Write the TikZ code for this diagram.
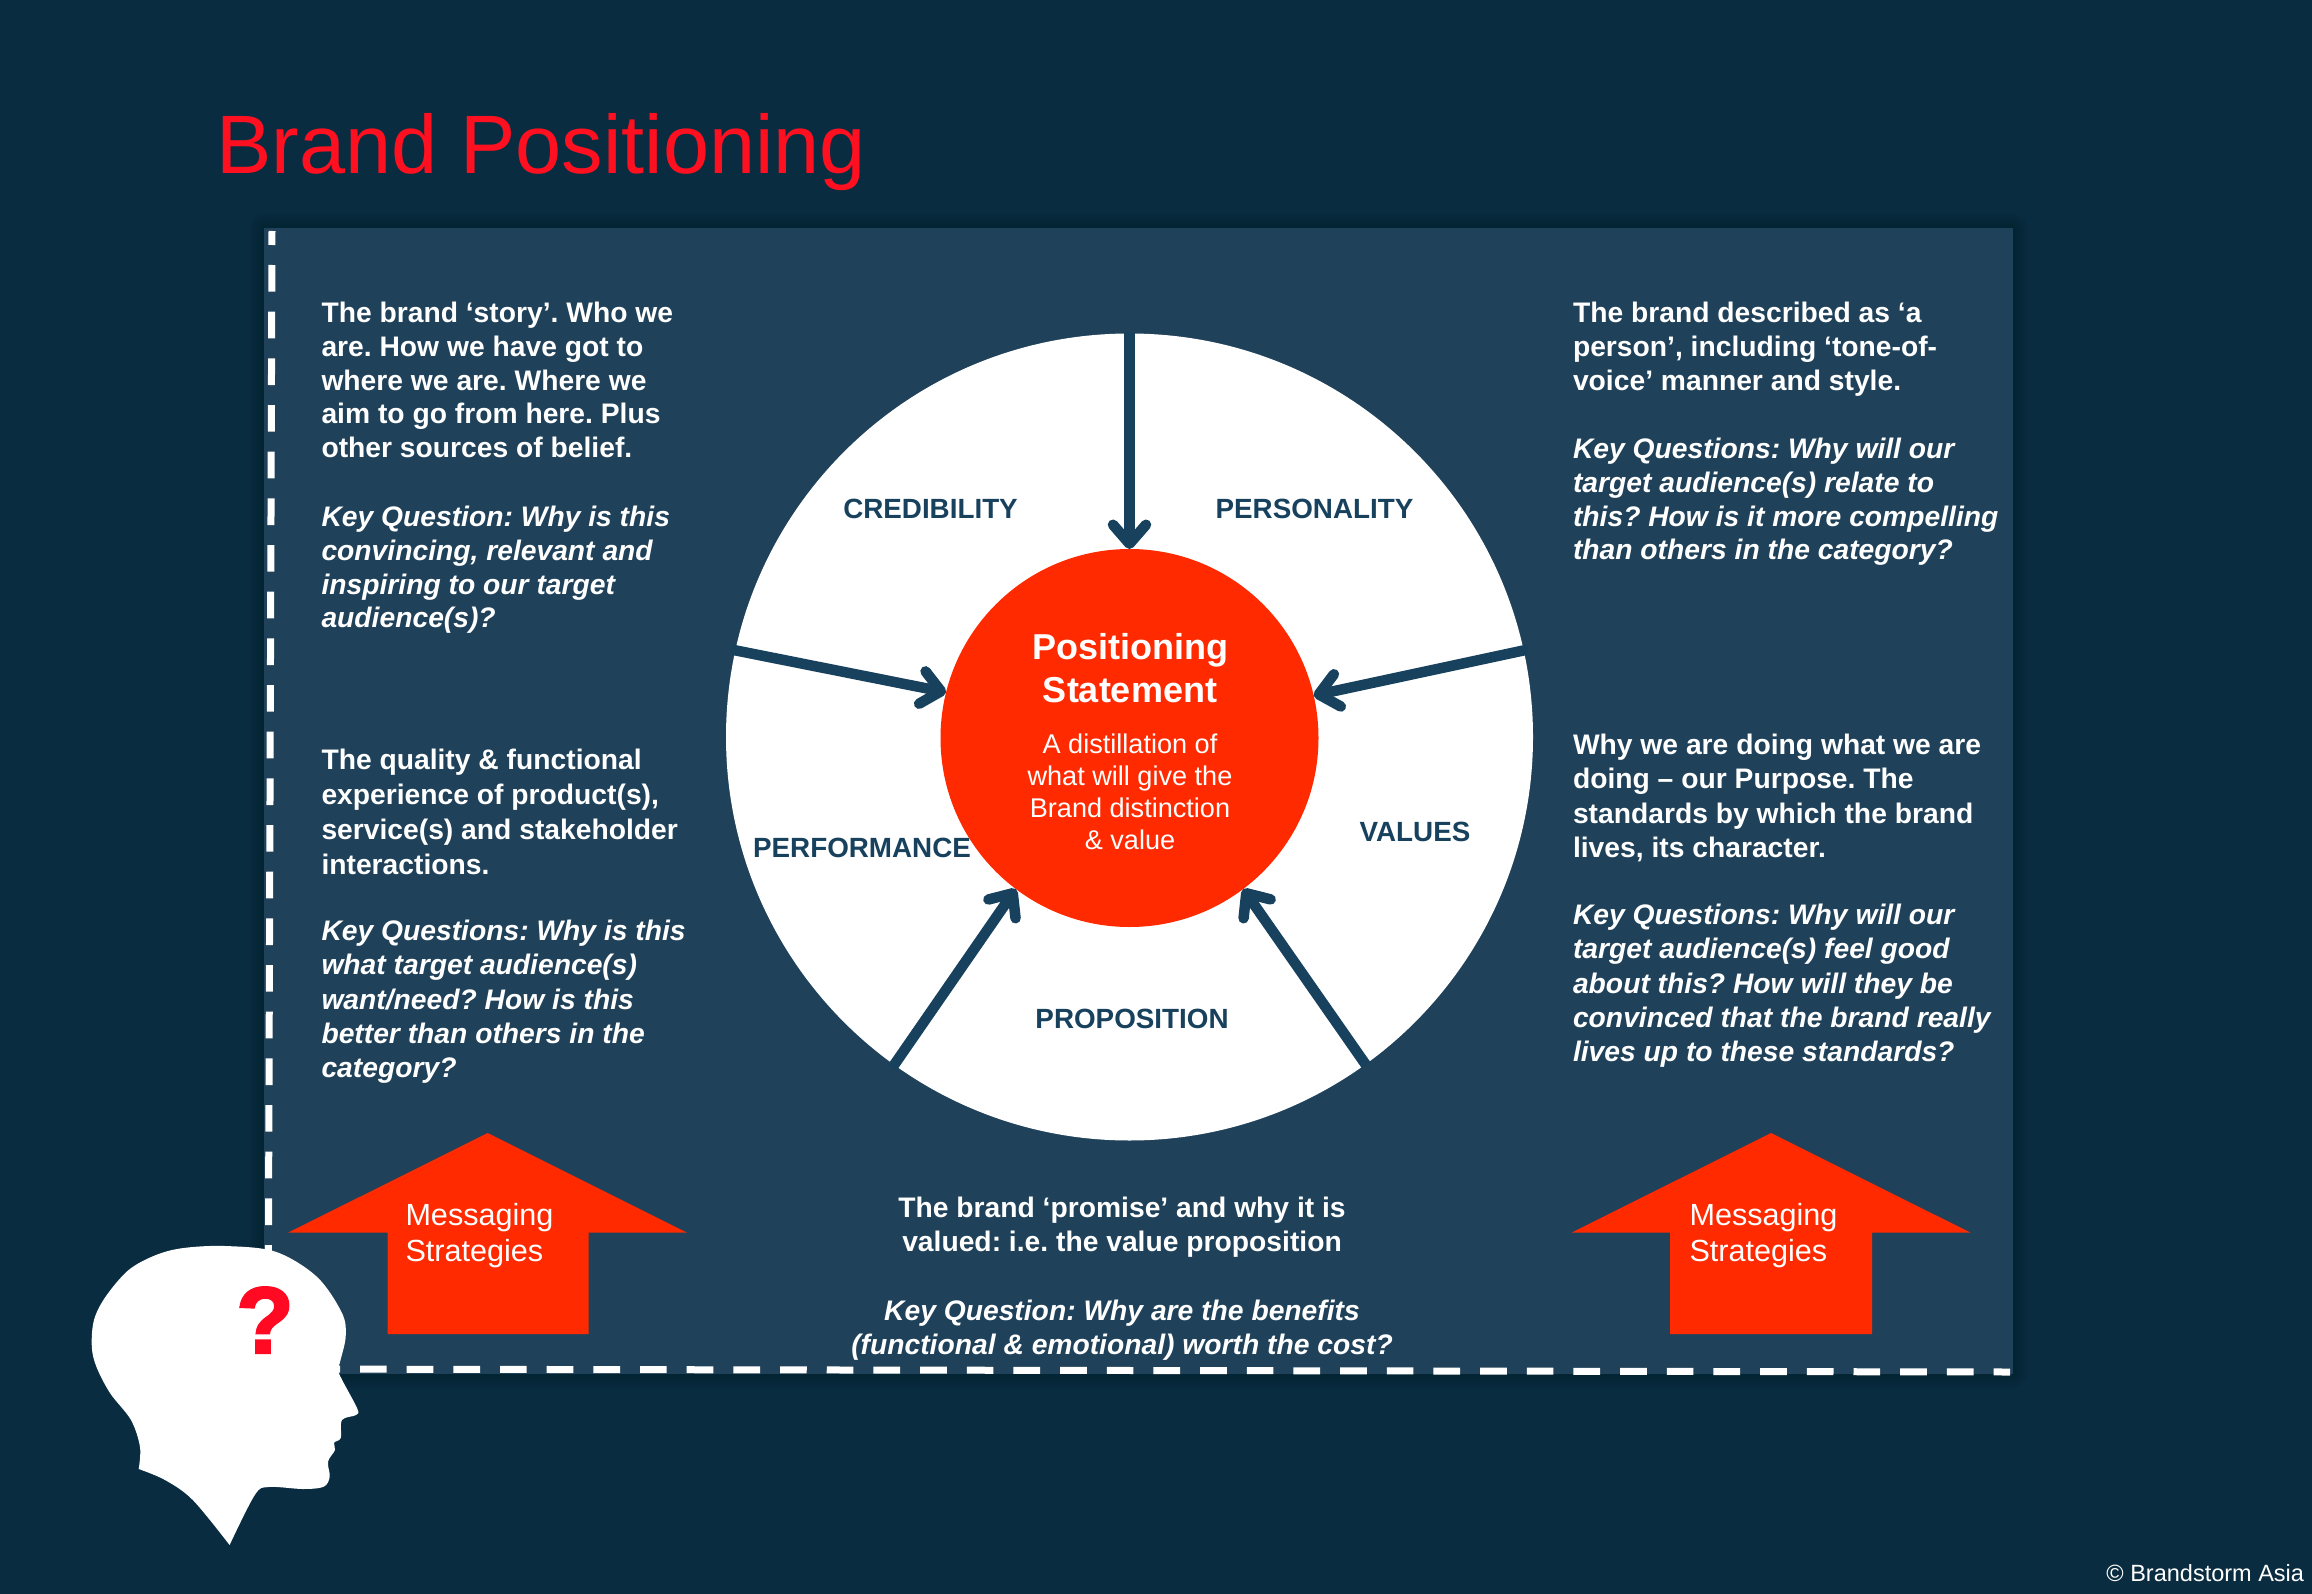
\documentclass[tikz,border=0pt]{standalone}
\usepackage{fontspec}
\usetikzlibrary{arrows.meta}
\setmainfont{Liberation Sans}
\newfontfamily\markfont[FakeBold=2.5]{Liberation Sans Bold}
\frenchspacing
\definecolor{pagebg}{HTML}{0A2C40}
\definecolor{panelbg}{HTML}{1F4159}
\definecolor{spokeblue}{HTML}{17415D}
\definecolor{hotred}{HTML}{FF2A00}
\definecolor{titlered}{HTML}{FF1020}
\definecolor{markred}{HTML}{FF0A22}
\tikzset{
  x=1pt, y=-1pt,
  txt/.style={inner sep=0pt, outer sep=0pt, text=white},
  bodytxt/.style={txt, anchor=north west, align=left, font=\fontsize{28.25}{#1}\selectfont\bfseries},
  bodytxt/.default=33.8,
  asktxt/.style={txt, anchor=north west, align=left, font=\fontsize{28.25}{#1}\selectfont\bfseries\itshape},
  asktxt/.default=33.8,
  bodymid/.style={bodytxt, anchor=north, align=center},
  askmid/.style={asktxt, anchor=north, align=center},
  seglabel/.style={inner sep=0pt, text=spokeblue, font=\fontsize{27.8}{33}\selectfont\bfseries},
  spoke/.style={draw=spokeblue, line width=10.5pt, -{Straight Barb[length=19pt,width=33pt,round]}},
  dashrule/.style={draw=white, line width=7pt},
  bigarrow/.style={fill=hotred, draw=none},
  arrowtxt/.style={txt, anchor=north west, align=left, font=\fontsize{30.6}{36}\selectfont},
}
\begin{document}
\begin{tikzpicture}
\useasboundingbox (0,0) rectangle (2312,1594);
\fill[pagebg] (0,0) rectangle (2312,1594);

% soft shadow around the panel
\foreach \g in {14,12,10,8,6,4,2}
  \fill[black, opacity=0.025, rounded corners=\g pt] (264-\g,228-\g) rectangle (2013+\g,1374+\g);
\fill[panelbg] (264,228) rectangle (2013,1374);

% dashed frame on the left and bottom edges
\coordinate (dashTL) at (272,231);
\coordinate (dashBL) at (268,1369);
\coordinate (dashBLb) at (266.7,1369);
\coordinate (dashBR) at (2010,1372);
\draw[dashrule, dash pattern=on 26.67pt off 20pt, dash phase=12.67pt] (dashTL) -- (dashBL);
\draw[dashrule, dash pattern=on 26.67pt off 20pt] (dashBLb) -- (dashBR);

% wheel with central hub
\node[circle, fill=white, inner sep=0pt, outer sep=0pt, minimum size=807pt] (wheel) at (1129.5,737) {};
\node[circle, fill=hotred, inner sep=0pt, outer sep=0pt, minimum size=378pt] (hub) at (1129.5,738) {};

% spokes run from the wheel rim to the hub
\coordinate (rimA) at (1129.5,332);
\coordinate (rimB) at (731,649.5);
\coordinate (rimC) at (1528,649.5);
\coordinate (rimD) at (892,1068);
\coordinate (rimE) at (1366,1065);
\draw[spoke] (rimA) -- (hub.north);
\draw[spoke] (rimB) -- (hub.166.4);
\draw[spoke] (rimC) -- (hub.13.7);
\draw[spoke] (rimD) -- (hub.233.6);
\draw[spoke] (rimE) -- (hub.307.1);

% segment names
\node[seglabel] (credibility) at (930.5,509) {CREDIBILITY};
\node[seglabel] (personality) at (1314.5,509) {PERSONALITY};
\node[seglabel] (performance) at (862,848) {PERFORMANCE};
\node[seglabel] (values) at (1415,831.5) {VALUES};
\node[seglabel] (proposition) at (1132,1019) {PROPOSITION};

% hub wording
\node[txt, align=center, anchor=north, font=\fontsize{36}{43}\selectfont\bfseries] (hubtitle) at (1130,633.5) {Positioning\\Statement};
\node[txt, align=center, anchor=north, font=\fontsize{27.1}{31.8}\selectfont] (hubtext) at (1130,734) {A distillation of\\what will give the\\Brand distinction\\\& value};

% left column
\node[bodytxt] (story) at (321.5,302) {The brand ‘story’. Who we\\are. How we have got to\\where we are. Where we\\aim to go from here. Plus\\other sources of belief.};
\node[asktxt] (storyask) at (321.5,506) {Key Question: Why is this\\convincing, relevant and\\inspiring to our target\\audience(s)?};
\node[bodytxt=35] (quality) at (321.5,749) {The quality \& functional\\experience of product(s),\\service(s) and stakeholder\\interactions.};
\node[asktxt=34.3] (qualityask) at (321.5,920) {Key Questions: Why is this\\what target audience(s)\\want/need? How is this\\better than others in the\\category?};

% right column
\node[bodytxt] (person) at (1573,302) {The brand described as ‘a\\person’, including ‘tone-of-\\voice’ manner and style.};
\node[asktxt] (personask) at (1573,438) {Key Questions: Why will our\\target audience(s) relate to\\this? How is it more compelling\\than others in the category?};
\node[bodytxt=34.3] (purpose) at (1573,734) {Why we are doing what we are\\doing – our Purpose. The\\standards by which the brand\\lives, its character.};
\node[asktxt=34.3] (purposeask) at (1573,904) {Key Questions: Why will our\\target audience(s) feel good\\about this? How will they be\\convinced that the brand really\\lives up to these standards?};

% bottom centre
\node[bodymid] (promise) at (1122,1197) {The brand ‘promise’ and why it is\\valued: i.e. the value proposition};
\node[askmid] (promiseask) at (1122,1300) {Key Question: Why are the benefits\\(functional \& emotional) worth the cost?};

% messaging arrows
\fill[bigarrow] (487.6,1133) -- (687,1232.7) -- (588.6,1232.7) -- (588.6,1334) -- (387.5,1334) -- (387.5,1232.7) -- (288,1232.7) -- cycle;
\fill[bigarrow] (1771,1133) -- (1970.7,1232.7) -- (1872,1232.7) -- (1872,1334) -- (1670,1334) -- (1670,1232.7) -- (1571.5,1232.7) -- cycle;
\node[arrowtxt] (msgleft) at (405.5,1203) {Messaging\\Strategies};
\node[arrowtxt] (msgright) at (1689.5,1203) {Messaging\\Strategies};

% title and credit
\node[inner sep=0pt, anchor=base west, text=titlered, font=\fontsize{82.9}{90}\selectfont] (title) at (216,174) {Brand Positioning};
\node[txt, anchor=base east, font=\fontsize{23.5}{28}\selectfont] (credit) at (2304,1581.7) {© Brandstorm Asia};

% head silhouette
\fill[white]
  plot[smooth, tension=0.55] coordinates {(138.7,1469) (140,1447) (131,1420) (110,1393) (96.4,1366.7) (91.8,1346.7) (94,1320) (105.6,1296.7) (128.6,1270) (156,1255) (183.6,1248) (225,1246) (275.5,1251.7) (316.8,1276.7) (342,1313) (345.7,1336.7) (339.8,1363) (338.8,1373) (357,1408) (356,1415) (342,1420) (340.7,1438) (334,1442.7) (335,1450) (328,1461.7) (329.7,1476.7) (323.7,1486.7) (303,1489) (268.6,1487) (254.8,1495) (229.6,1545)}
  -- plot[smooth, tension=0.55] coordinates {(229.6,1545) (192.8,1500) (165,1480) (138.7,1469)} -- cycle;
\node[inner sep=0pt, text=markred, font=\markfont\fontsize{94}{100}\selectfont] (mark) at (265,1320) {?};
\end{tikzpicture}
\end{document}
